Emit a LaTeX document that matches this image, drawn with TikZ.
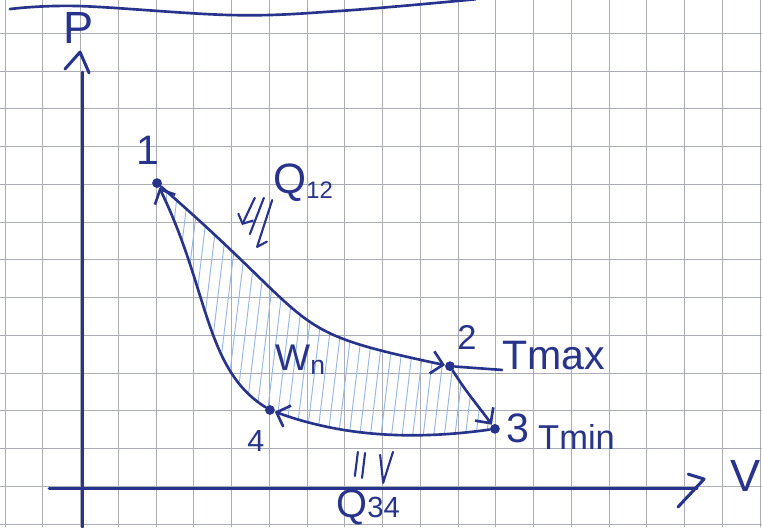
\documentclass[tikz,border=0pt]{standalone}
\usepackage{fontspec}
\setmainfont{Liberation Sans}
\usetikzlibrary{arrows.meta,calc}

\definecolor{ink}{RGB}{40,52,140}
\definecolor{hatchblue}{RGB}{150,182,228}
\definecolor{gridgray}{RGB}{170,172,182}

\begin{document}
\begin{tikzpicture}[line cap=round, line join=round]

% ------------------------------------------------
% Styles
% ------------------------------------------------
\tikzset{
    paper/.style={gridgray, line width=0.6pt},
    axis/.style={ink, line width=2.3pt},
    cyc/.style={ink, line width=2pt, -{Straight Barb[length=3mm,width=6mm]}},
    hatch/.style={hatchblue, line width=0.7pt},
    heat/.style={ink, line width=1.6pt},
    dot/.style={circle, fill=ink, inner sep=0pt, minimum size=2.6mm},
    lbl/.style={text=ink, inner sep=0pt},
}

\useasboundingbox (0,0) rectangle (20.185,13.96);
\fill[white] (0,0) rectangle (20.185,13.96);

% ------------------------------------------------
% Squared paper
% ------------------------------------------------
\foreach \gx in {0,...,20}
    \draw[paper] (0.1325+\gx,0) -- (0.1325+\gx,13.96);
\foreach \gy in {0,...,13}
    \draw[paper] (0,0.078+\gy) -- (20.185,0.078+\gy);

% line at the top of the sheet
\draw[ink, line width=2pt] plot[smooth, tension=0.6]
    coordinates {(0.26,13.72) (2.07,13.80) (6.17,13.56) (9.01,13.67) (12.6,13.98)};

% ------------------------------------------------
% Axes
% ------------------------------------------------
\draw[axis] (2.18,0) -- (2.18,12.05);
\draw[axis] (1.72,12.13) -- (2.12,12.58) -- (2.36,12.03);
\node[lbl, font=\fontsize{34}{34}\selectfont] (plbl) at (2.09,13.22) {P};

\draw[axis] (1.30,1.01) -- (18.46,1.01);
\draw[axis] (18.23,1.40) -- (18.65,1.27) -- (17.96,0.53);
\node[lbl, font=\fontsize{34}{34}\selectfont] (vlbl) at (19.74,1.35) {V};

% ------------------------------------------------
% Cycle corners
% ------------------------------------------------
\coordinate (c1) at (4.16,9.11);
\coordinate (c2) at (11.92,4.26);
\coordinate (c3) at (13.11,2.60);
\coordinate (c4) at (7.15,3.10);

% shaded work area
\begin{scope}
    \clip (c1) to[out=-41,in=168,out distance=5.8cm,in distance=4.5cm] (c2)
        to[out=-58,in=126] (c3)
        to[out=188,in=-20,out distance=2.2cm,in distance=1.8cm] (c4)
        to[out=148,in=-64,out distance=1.9cm,in distance=3cm] (c1);
    \foreach \hx in {3.6,3.88,...,13.4}
        \draw[hatch] (\hx,2) -- ++(0.9,7.5);
\end{scope}

\node[dot] (p1) at (c1) {};
\node[dot] (p2) at (c2) {};
\node[dot] (p3) at (c3) {};
\node[dot] (p4) at (c4) {};

\draw[cyc] (p1) to[out=-41,in=168,out distance=5.8cm,in distance=4.5cm] (p2);
\draw[cyc] (p2) to[out=-58,in=126] (p3);
\draw[cyc] (p3) to[out=188,in=-20,out distance=2.2cm,in distance=1.8cm] (p4);
\draw[cyc] (p4) to[out=148,in=-64,out distance=1.9cm,in distance=3cm] (p1);

% corner numbers
\node[lbl, font=\fontsize{31}{31}\selectfont] (n1) at ($(c1)+(-0.24,0.88)$) {1};
\node[lbl, font=\fontsize{26}{26}\selectfont] (n2) at ($(c2)+(0.45,0.75)$) {2};
\node[lbl, font=\fontsize{31}{31}\selectfont] (n3) at ($(c3)+(0.61,0.02)$) {3};
\node[lbl, font=\fontsize{23}{23}\selectfont] (n4) at ($(c4)+(-0.37,-0.82)$) {4};

% temperatures
\node[lbl, anchor=base west, font=\fontsize{31}{31}\selectfont] (tmax) at (13.3,4.16) {Tmax};
\draw[ink, line width=2pt] (p2) -- (tmax.base west);
\node[lbl, anchor=base west, font=\fontsize{26}{26}\selectfont] (tmin) at (14.25,2.04) {Tmin};

% ------------------------------------------------
% Heat and work
% ------------------------------------------------
\node[lbl] (q12) at (8.03,9.11)
    {{\fontsize{32}{32}\selectfont Q}\raisebox{-0.35em}{\fontsize{18}{18}\selectfont 12}};
\draw[heat, -{Straight Barb[length=2mm,width=4.5mm]}] (6.75,8.72) -- (6.41,8.00);
\draw[heat] (6.99,8.72) -- (6.62,7.76);
\draw[heat] (7.21,8.66) -- (6.81,7.42) -- (7.07,7.56);

\node[lbl] (wn) at (7.95,4.42)
    {{\fontsize{28}{28}\selectfont W}\raisebox{-0.3em}{\fontsize{20}{20}\selectfont n}};

\draw[heat] (9.48,1.99) -- (9.40,1.35);
\draw[heat] (9.67,1.96) -- (9.59,1.30);
\draw[heat] (10.07,1.91) -- (10.15,1.17) -- (10.41,1.99);
\node[lbl] (q34) at (9.75,0.53)
    {{\fontsize{30}{30}\selectfont Q}{\fontsize{22}{22}\selectfont 34}};

\end{tikzpicture}
\end{document}
